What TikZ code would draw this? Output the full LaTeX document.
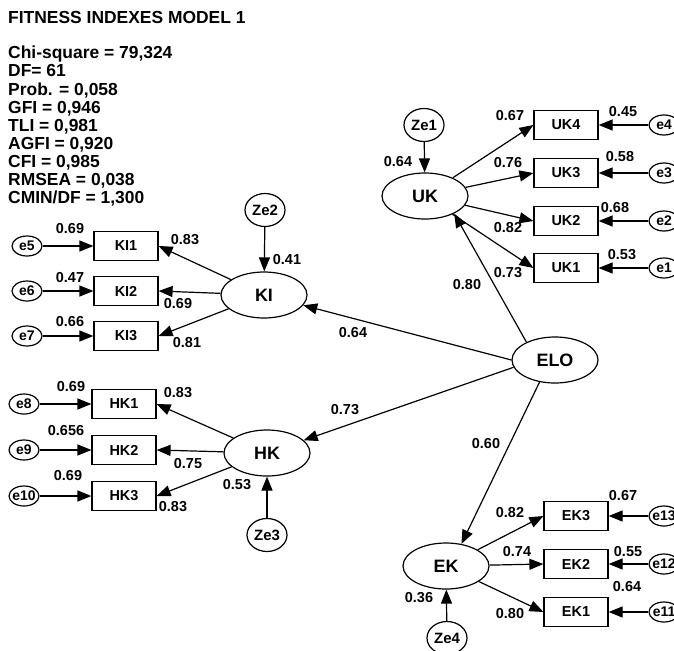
\documentclass[tikz,border=0pt]{standalone}
\usepackage{fontspec}
\setmainfont{Liberation Sans}
\usetikzlibrary{arrows.meta,shapes.geometric}

\begin{document}
\begin{tikzpicture}[x=1bp, y=-1bp, font=\bfseries\fontsize{14.5}{16}\selectfont,
		latent/.style={draw, ellipse, line width=1.2bp, minimum width=86bp, minimum height=46bp, inner sep=0pt, font=\bfseries\fontsize{18}{20}\selectfont},
		obs/.style={draw, rectangle, line width=1.2bp, minimum width=64bp, minimum height=29bp, inner sep=0pt},
		err/.style={draw, ellipse, line width=1.2bp, minimum width=30bp, minimum height=20bp, inner xsep=-4bp, inner ysep=-2bp, font=\bfseries\fontsize{14}{15}\selectfont},
		dist/.style={draw, ellipse, line width=1.2bp, minimum width=40bp, minimum height=33bp, inner sep=-1bp, font=\bfseries\fontsize{15}{16}\selectfont},
		path/.style={-{Triangle[length=14bp, width=11bp]}, line width=1.2bp},
		coef/.style={inner sep=0pt}]
		\clip (0,0) rectangle (674,651);

		% Title and fit indexes
		\node[anchor=west, inner sep=0pt, font=\bfseries\fontsize{17.5}{18}\selectfont] (title) at (8,17) {FITNESS INDEXES MODEL 1};
		\node[anchor=north west, inner sep=0pt, align=left, font=\bfseries\fontsize{17.5}{18.2}\selectfont] (fit) at (8,46) {Chi-square = 79,324\\DF= 61\\Prob. = 0,058\\GFI = 0,946\\TLI = 0,981\\AGFI = 0,920\\CFI = 0,985\\RMSEA = 0,038\\CMIN/DF = 1,300};

		% ELO
		\node[latent] (ELO) at (555,360) {ELO};

		% UK
		\node[latent] (UK) at (425,196) {UK};
		\node[dist] (Ze1) at (424,125) {Ze1};
		\draw[path] (Ze1) -- (UK);
		\foreach \i/\y in {4/125, 3/173, 2/221, 1/268} {
			\node[obs] (UK\i) at (566,\y) {UK\i};
			\node[err] (e\i) at (664,\y) {e\i};
			\draw[path] (UK) -- (UK\i.west);
			\draw[path] (e\i) -- (UK\i);
		}
		\foreach \v/\x/\y [count=\n] in {0.45/623/112, 0.58/620/157, 0.68/615/208, 0.53/622/255, 0.67/510/116, 0.76/508/163, 0.82/508/228, 0.73/508/273, 0.64/398/162, 0.80/467/285}
			\node[coef] (cUK\n) at (\x,\y) {\v};

		% KI
		\node[latent] (KI) at (264,295) {KI};
		\node[dist] (Ze2) at (265,210) {Ze2};
		\draw[path] (Ze2) -- (KI);
		\foreach \i/\e/\y in {1/5/246, 2/6/291, 3/7/336} {
			\node[obs] (KI\i) at (126,\y) {KI\i};
			\node[err] (e\e) at (27,\y) {e\e};
			\draw[path] (KI) -- (KI\i.east);
			\draw[path] (e\e) -- (KI\i);
		}
		\foreach \v/\x/\y [count=\n] in {0.69/70/229, 0.47/70/278, 0.66/70/322, 0.83/185/240, 0.69/178/304, 0.81/187/343, 0.41/287/260, 0.64/353/333}
			\node[coef] (cKI\n) at (\x,\y) {\v};

		% HK
		\node[latent] (HK) at (267,453) {HK};
		\node[dist] (Ze3) at (267,535) {Ze3};
		\draw[path] (Ze3) -- (HK);
		\foreach \i/\e/\y in {1/8/404, 2/9/450, 3/10/496} {
			\node[obs] (HK\i) at (124,\y) {HK\i};
			\node[err] (e\e) at (24,\y) {e\e};
			\draw[path] (HK) -- (HK\i.east);
			\draw[path] (e\e) -- (HK\i);
		}
		\foreach \v/\x/\y [count=\n] in {0.69/71/387, 0.656/66/431, 0.69/68/476, 0.83/178/393, 0.75/188/464, 0.83/173/507, 0.53/237/485, 0.73/345/410}
			\node[coef] (cHK\n) at (\x,\y) {\v};

		% EK
		\node[latent] (EK) at (446,566) {EK};
		\node[dist] (Ze4) at (447,638) {Ze4};
		\draw[path] (Ze4) -- (EK);
		\foreach \i/\e/\y in {3/13/516, 2/12/564, 1/11/612} {
			\node[obs] (EK\i) at (576,\y) {EK\i};
			\node[err] (e\e) at (664,\y) {e\e};
			\draw[path] (EK) -- (EK\i.west);
			\draw[path] (e\e) -- (EK\i);
		}
		\foreach \v/\x/\y [count=\n] in {0.67/623/496, 0.55/628/552, 0.64/627/587, 0.82/510/513, 0.74/517/552, 0.80/510/614, 0.36/419/598, 0.60/486/444}
			\node[coef] (cEK\n) at (\x,\y) {\v};

		% Paths from ELO
		\draw[path] (ELO.148) -- (UK.329);
		\draw[path] (ELO.west) -- (KI);
		\draw[path] (ELO.190) -- (HK);
		\draw[path] (ELO.235) -- (EK.55);
	\end{tikzpicture}
\end{document}
